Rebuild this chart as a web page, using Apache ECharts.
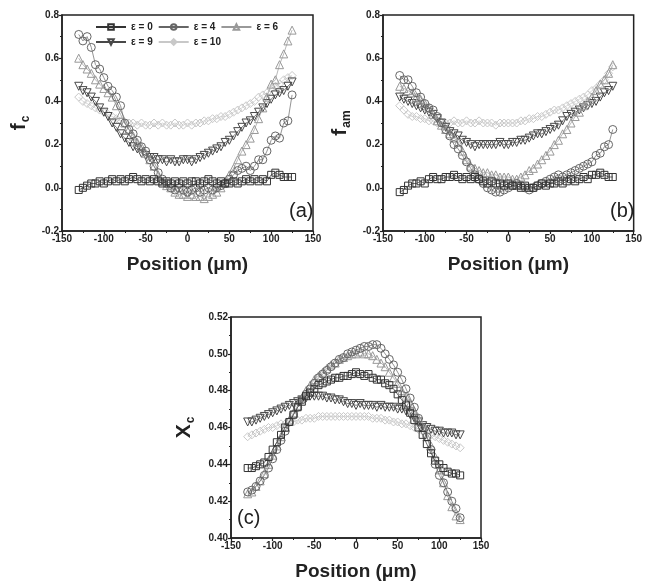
<!DOCTYPE html>
<html><head><meta charset="utf-8">
<script src="https://cdn.jsdelivr.net/npm/echarts@6/dist/echarts.min.js"></script>
<style>html,body{margin:0;padding:0;background:#fff}#c{width:645px;height:587px}</style>
</head><body><div id="c"></div>
<script>
// Positions (µm)
const positions = [-130,-125,-120,-115,-110,-105,-100,-95,-90,-85,-80,-75,-70,-65,-60,-55,-50,-45,-40,-35,-30,-25,-20,-15,-10,-5,0,5,10,15,20,25,30,35,40,45,50,55,60,65,70,75,80,85,90,95,100,105,110,115,120,125];
const seriesNames = ['ε = 0','ε = 4','ε = 6','ε = 9','ε = 10'];
const xTicks = [-150,-100,-50,0,50,100,150];

// Panel (a): f_c
const fc_e0 = [-0.01,0.0,0.01,0.02,0.02,0.03,0.02,0.03,0.04,0.03,0.04,0.03,0.04,0.05,0.04,0.03,0.04,0.03,0.04,0.03,0.02,0.03,0.02,0.03,0.02,0.03,0.02,0.03,0.03,0.02,0.03,0.04,0.03,0.02,0.03,0.02,0.02,0.03,0.02,0.03,0.04,0.03,0.04,0.03,0.04,0.03,0.06,0.07,0.06,0.05,0.05,0.05];
const fc_e4 = [0.71,0.68,0.70,0.65,0.57,0.55,0.51,0.47,0.45,0.42,0.38,0.30,0.27,0.25,0.22,0.19,0.17,0.13,0.10,0.07,0.04,0.02,0.0,-0.01,0.0,-0.01,-0.02,-0.01,0.0,-0.02,-0.01,0.0,-0.01,0.0,0.01,0.02,0.04,0.06,0.08,0.09,0.10,0.08,0.10,0.13,0.13,0.17,0.22,0.24,0.23,0.30,0.31,0.43];
const fc_e6 = [0.60,0.57,0.55,0.53,0.50,0.48,0.46,0.44,0.42,0.38,0.34,0.30,0.27,0.24,0.21,0.19,0.16,0.13,0.10,0.06,0.03,0.01,0.0,-0.02,-0.03,-0.03,-0.04,-0.03,-0.04,-0.04,-0.05,-0.04,-0.03,-0.02,0.0,0.03,0.06,0.09,0.13,0.17,0.20,0.23,0.27,0.32,0.37,0.42,0.48,0.50,0.57,0.62,0.68,0.73];
const fc_e9 = [0.47,0.45,0.44,0.42,0.40,0.37,0.35,0.33,0.30,0.28,0.25,0.23,0.21,0.19,0.18,0.16,0.15,0.14,0.14,0.13,0.13,0.12,0.13,0.12,0.12,0.13,0.13,0.12,0.13,0.14,0.15,0.16,0.17,0.18,0.19,0.21,0.22,0.24,0.26,0.28,0.30,0.31,0.33,0.35,0.37,0.39,0.41,0.43,0.44,0.45,0.47,0.49];
const fc_e10 = [0.42,0.40,0.39,0.38,0.37,0.36,0.35,0.34,0.33,0.32,0.31,0.30,0.30,0.30,0.29,0.30,0.29,0.29,0.30,0.29,0.30,0.29,0.29,0.30,0.29,0.29,0.30,0.29,0.30,0.30,0.31,0.31,0.32,0.32,0.33,0.33,0.34,0.35,0.36,0.37,0.38,0.39,0.40,0.42,0.43,0.44,0.46,0.47,0.48,0.50,0.51,0.52];

// Panel (b): f_am
const fam_e0 = [-0.02,-0.01,0.01,0.02,0.02,0.03,0.02,0.04,0.05,0.04,0.04,0.05,0.05,0.06,0.05,0.04,0.05,0.04,0.05,0.04,0.03,0.02,0.03,0.02,0.02,0.01,0.02,0.01,0.01,0.0,0.01,0.0,0.0,0.01,0.02,0.01,0.02,0.02,0.03,0.02,0.03,0.04,0.03,0.04,0.05,0.04,0.06,0.06,0.07,0.06,0.05,0.05];
const fam_e4 = [0.52,0.50,0.50,0.47,0.44,0.42,0.39,0.37,0.36,0.33,0.30,0.27,0.24,0.20,0.18,0.15,0.12,0.09,0.06,0.04,0.02,0.0,-0.01,-0.02,-0.02,-0.01,0.0,0.01,0.02,0.01,0.0,-0.01,0.0,0.01,0.02,0.03,0.04,0.05,0.06,0.05,0.06,0.07,0.08,0.09,0.10,0.11,0.12,0.15,0.16,0.19,0.20,0.27];
const fam_e6 = [0.47,0.46,0.45,0.44,0.42,0.41,0.39,0.37,0.34,0.31,0.29,0.27,0.25,0.23,0.21,0.17,0.13,0.10,0.09,0.08,0.07,0.07,0.06,0.06,0.05,0.05,0.05,0.04,0.04,0.05,0.06,0.08,0.09,0.11,0.13,0.15,0.17,0.20,0.22,0.25,0.27,0.30,0.33,0.35,0.38,0.40,0.42,0.45,0.48,0.50,0.53,0.57];
const fam_e9 = [0.42,0.41,0.40,0.39,0.38,0.37,0.36,0.35,0.34,0.32,0.30,0.28,0.26,0.25,0.24,0.22,0.21,0.20,0.19,0.20,0.20,0.20,0.20,0.20,0.21,0.20,0.20,0.21,0.21,0.22,0.22,0.23,0.24,0.25,0.25,0.26,0.27,0.28,0.29,0.31,0.33,0.34,0.35,0.36,0.37,0.38,0.39,0.40,0.42,0.44,0.45,0.47];
const fam_e10 = [0.38,0.36,0.34,0.33,0.33,0.32,0.32,0.31,0.31,0.30,0.30,0.30,0.30,0.31,0.30,0.30,0.31,0.30,0.30,0.31,0.30,0.30,0.30,0.29,0.30,0.30,0.30,0.30,0.30,0.31,0.31,0.32,0.32,0.33,0.33,0.34,0.35,0.36,0.36,0.37,0.38,0.39,0.40,0.41,0.42,0.43,0.45,0.46,0.48,0.50,0.53,0.56];

// Panel (c): X_c
const xc_e0 = [0.438,0.438,0.439,0.440,0.441,0.444,0.448,0.452,0.456,0.460,0.463,0.467,0.471,0.474,0.477,0.479,0.481,0.483,0.484,0.485,0.486,0.487,0.487,0.488,0.488,0.489,0.490,0.489,0.488,0.489,0.487,0.486,0.486,0.484,0.483,0.481,0.478,0.475,0.472,0.468,0.464,0.460,0.456,0.451,0.446,0.442,0.440,0.438,0.436,0.435,0.435,0.434];
const xc_e4 = [0.425,0.426,0.428,0.431,0.434,0.438,0.443,0.448,0.453,0.458,0.463,0.467,0.471,0.475,0.478,0.481,0.484,0.487,0.489,0.491,0.493,0.495,0.497,0.498,0.500,0.501,0.502,0.503,0.504,0.504,0.505,0.505,0.503,0.500,0.497,0.494,0.490,0.486,0.481,0.476,0.471,0.465,0.460,0.455,0.448,0.440,0.434,0.430,0.425,0.420,0.416,0.411];
const xc_e6 = [0.424,0.425,0.428,0.431,0.435,0.440,0.445,0.450,0.455,0.460,0.464,0.468,0.472,0.476,0.480,0.483,0.486,0.488,0.490,0.492,0.494,0.495,0.497,0.498,0.499,0.500,0.500,0.501,0.500,0.500,0.499,0.497,0.495,0.493,0.490,0.487,0.484,0.480,0.477,0.473,0.469,0.465,0.460,0.455,0.450,0.444,0.437,0.430,0.423,0.417,0.412,0.410];
const xc_e9 = [0.463,0.463,0.464,0.465,0.466,0.467,0.468,0.469,0.470,0.471,0.472,0.473,0.474,0.475,0.476,0.477,0.477,0.477,0.477,0.476,0.476,0.475,0.475,0.474,0.473,0.473,0.472,0.473,0.472,0.472,0.472,0.471,0.472,0.471,0.471,0.471,0.470,0.470,0.469,0.467,0.465,0.463,0.461,0.460,0.459,0.458,0.458,0.457,0.457,0.457,0.456,0.456];
const xc_e10 = [0.455,0.456,0.457,0.458,0.459,0.460,0.460,0.461,0.462,0.462,0.463,0.463,0.464,0.464,0.465,0.465,0.465,0.466,0.466,0.466,0.466,0.466,0.466,0.466,0.466,0.466,0.466,0.466,0.466,0.466,0.465,0.465,0.465,0.464,0.464,0.463,0.463,0.462,0.462,0.461,0.460,0.459,0.458,0.457,0.456,0.455,0.454,0.453,0.452,0.451,0.450,0.449];

const panels = [
  {data:[fc_e0,fc_e4,fc_e6,fc_e9,fc_e10]},
  {data:[fam_e0,fam_e4,fam_e6,fam_e9,fam_e10]},
  {data:[xc_e0,xc_e4,xc_e6,xc_e9,xc_e10]}
];

const colors = ['#333333','#666666','#999999','#484848','#c8c8c8'];
const symbols = ['rect','circle','triangle','triangle','diamond'];
const rotates = [0,0,0,180,0];
const FONT = 'Liberation Sans, Arial, sans-serif';

const chart = echarts.init(document.getElementById('c'), null, {renderer:'canvas'});

function xAxisCfg(gi){
  return {
    gridIndex:gi, type:'value', min:-150, max:150, interval:50,
    name:'Position (μm)', nameLocation:'middle', nameGap:24,
    nameTextStyle:{fontFamily:FONT, fontWeight:'bold', fontSize:19, color:'#222'},
    axisLine:{show:true, onZero:false, lineStyle:{color:'#222', width:1.5}},
    axisTick:{show:true, inside:false, length:3, lineStyle:{color:'#222', width:1.2}},
    minorTick:{show:true, splitNumber:2, length:2, lineStyle:{color:'#222'}},
    axisLabel:{fontFamily:FONT, fontWeight:'bold', fontSize:10, color:'#222', margin:3},
    splitLine:{show:false}
  };
}
function yAxisCfg(gi, min, max, interval, dec, richName, gap){
  return {
    gridIndex:gi, type:'value', min:min, max:max, interval:interval,
    name:richName, nameLocation:'middle', nameGap:gap, nameRotate:90,
    nameTextStyle:{fontFamily:FONT, color:'#222',
      rich:{m:{fontSize:21, fontWeight:'bold', fontFamily:FONT, color:'#222'},
            s:{fontSize:12, fontWeight:'bold', fontFamily:FONT, color:'#222', padding:[14,0,0,1]}}},
    axisLine:{show:true, onZero:false, lineStyle:{color:'#222', width:1.5}},
    axisTick:{show:true, inside:false, length:3, lineStyle:{color:'#222', width:1.2}},
    minorTick:{show:true, splitNumber:2, length:2, lineStyle:{color:'#222'}},
    axisLabel:{fontFamily:FONT, fontWeight:'bold', fontSize:10, color:'#222', margin:3,
      formatter:v=>v.toFixed(dec)},
    splitLine:{show:false}
  };
}

const series = [];
panels.forEach((p, gi)=>{
  p.data.forEach((arr, si)=>{
    series.push({
      name:seriesNames[si], type:'line', xAxisIndex:gi, yAxisIndex:gi,
      data:positions.map((x,i)=>[x, arr[i]]),
      symbol:symbols[si], symbolRotate:rotates[si], symbolSize:si===0?7:8,
      lineStyle:{color:colors[si], width:0.7},
      itemStyle:{color:'rgba(255,255,255,0)', borderColor:colors[si], borderWidth:1},
      z: 10 - si,
      animation:false
    });
  });
});

const option = {
  backgroundColor:'#fff',
  animation:false,
  grid:[
    {left:62, top:15, width:251, height:216, show:true, borderColor:'#222', borderWidth:1.5, backgroundColor:'transparent'},
    {left:383, top:15, width:251, height:216, show:true, borderColor:'#222', borderWidth:1.5, backgroundColor:'transparent'},
    {left:231, top:317, width:250, height:221, show:true, borderColor:'#222', borderWidth:1.5, backgroundColor:'transparent'}
  ],
  xAxis:[xAxisCfg(0), xAxisCfg(1), xAxisCfg(2)],
  yAxis:[
    yAxisCfg(0,-0.2,0.8,0.2,1,'{m|f}{s|c}',30),
    yAxisCfg(1,-0.2,0.8,0.2,1,'{m|f}{s|am}',30),
    yAxisCfg(2,0.40,0.52,0.02,2,'{m|X}{s|c}',34)
  ],
  legend:{
    data:seriesNames, left:95, top:22, width:215, itemWidth:30, itemHeight:7, itemGap:5,
    textStyle:{fontFamily:FONT, fontWeight:'bold', fontSize:10, color:'#222'},
    padding:0
  },
  graphic:[
    {type:'text', left:289, top:201, style:{text:'(a)', fontFamily:FONT, fontSize:20, fill:'#222'}},
    {type:'text', left:610, top:201, style:{text:'(b)', fontFamily:FONT, fontSize:20, fill:'#222'}},
    {type:'text', left:237, top:508, style:{text:'(c)', fontFamily:FONT, fontSize:20, fill:'#222'}}
  ],
  series:series
};
chart.setOption(option);
</script>
</body></html>
